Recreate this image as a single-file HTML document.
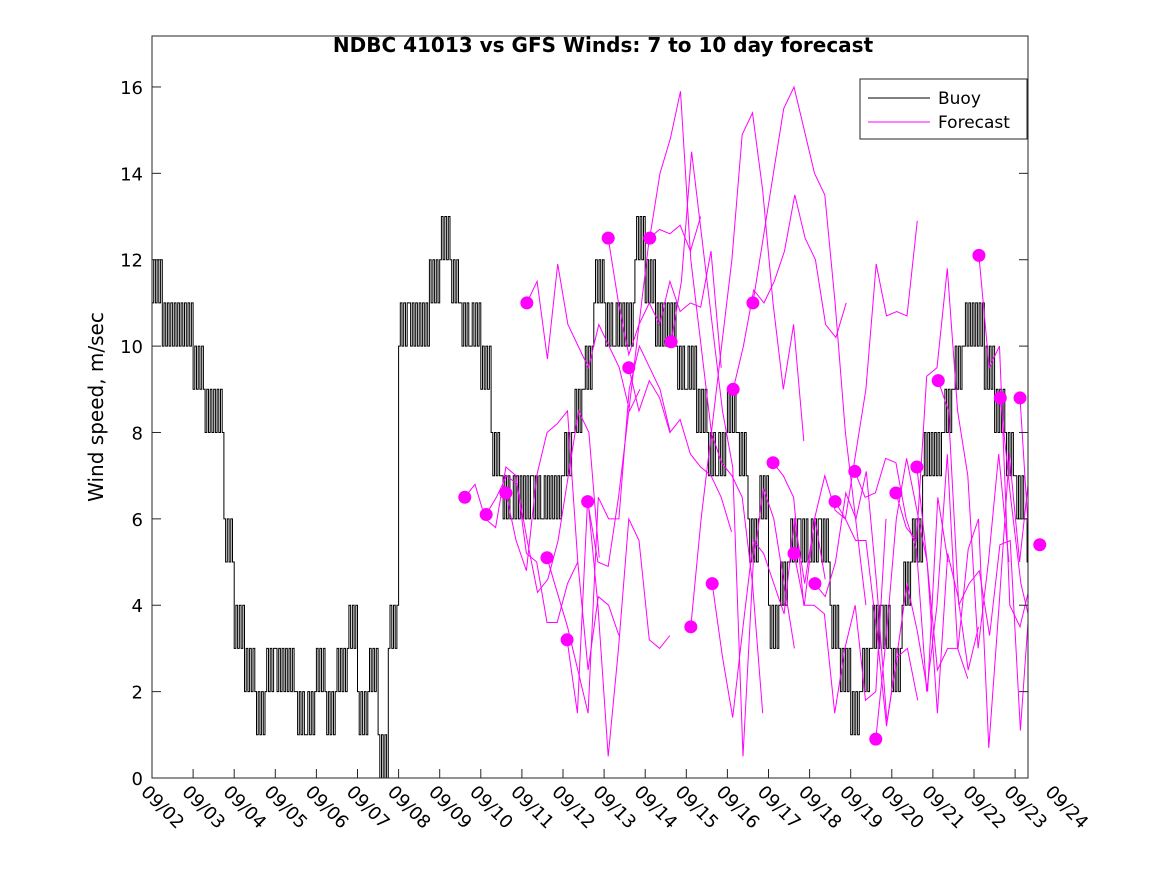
<!DOCTYPE html>
<html><head><meta charset="utf-8"><style>
body{margin:0;background:#fff;}
svg{font-family:"Liberation Sans","DejaVu Sans",sans-serif;}
</style></head><body>
<svg id="chart" width="1167" height="875" viewBox="0 0 1167 875" xmlns="http://www.w3.org/2000/svg">
<defs><clipPath id="pc"><rect x="152" y="36" width="876" height="742"/></clipPath></defs>
<rect width="1167" height="875" fill="#fff"/>
<text x="603" y="52" text-anchor="middle" font-size="20" font-weight="bold" font-family="DejaVu Sans, sans-serif">NDBC 41013 vs GFS Winds: 7 to 10 day forecast</text>
<text transform="translate(103,407) rotate(-90)" text-anchor="middle" font-size="20" font-family="DejaVu Sans, sans-serif">Wind speed, m/sec</text>
<g id="series" clip-path="url(#pc)"></g>
<g id="dots"></g>
<rect x="152" y="36" width="876" height="742" fill="none" stroke="#262626" stroke-width="1"/>
<g id="axes"></g>
<g>
<rect x="860" y="79" width="167" height="60" fill="#fff" stroke="#262626"/>
<line x1="868" y1="98" x2="930" y2="98" stroke="#000"/>
<text x="938" y="104" font-size="17" font-family="DejaVu Sans, sans-serif">Buoy</text>
<line x1="868" y1="122" x2="930" y2="122" stroke="#f0f"/>
<text x="938" y="128" font-size="17" font-family="DejaVu Sans, sans-serif">Forecast</text>
</g>
</svg>
<script>
const xLabels=["09/02","09/03","09/04","09/05","09/06","09/07","09/08","09/09","09/10","09/11","09/12","09/13","09/14","09/15","09/16","09/17","09/18","09/19","09/20","09/21","09/22","09/23","09/24"];
const yTicks=[0,2,4,6,8,10,12,14,16];
const buoyStep=0.25;
const buoy=[11,10,10,10,9,9,9,6,3,2,2,2,3,3,2,1,3,1,3,3,2,2,1,3,10,11,11,12,12,12,11,10,9,8,7,6,6,7,6,6,7,8,9,11,11,10,10,12,11,10,10,10,9,8,8,7,9,8,6,6,4,4,5,6,5,6,4,2,1,2,3,4,2,4,6,7,7,8,9,10,10,9,8,8,7,6];
const buoyAlt=[12,11,11,11,10,8,8,5,4,3,1,3,2,2,1,2,2,2,2,4,1,3,0,4,11,10,10,11,13,11,10,11,10,7,6,7,7,6,7,7,8,9,10,12,10,11,11,13,12,11,11,9,10,9,7,8,8,7,5,7,3,5,6,5,6,5,3,3,2,3,4,3,3,5,5,8,8,9,10,11,11,10,9,7,6,5];
const fcStart=[7.61,8.13,8.61,9.12,9.61,10.1,10.6,11.1,11.6,12.11,12.63,13.11,13.63,14.14,14.62,15.11,15.62,16.13,16.62,17.1,17.61,18.1,18.61,19.13,20.12,20.64,21.12,21.6];
const fc=[
[6.5,6.8,6,5.8,7.2,7,5.2,5,3.6,3.6,4.5,5],
[6.1,6.5,7,6.8,5.5,4.3,4.6,5.5,7,8.5,8,5.1],
[6.6,5.5,4.8,7,8,8.2,8.5,5,2.5,4.2,4,3.3],
[11,11.5,9.7,11.9,10.5,10,9.5,10.5,10,9.5,8.5,9],
[5.1,4.3,3.5,2.5,1.5,6.5,6,6,9,10,9.5,9,8],
[3.2,1.5,6.5,4,0.5,3,6,5.5,3.2,3,3.3],
[6.4,5,4.9,6.5,8.5,10.5,12.5,12.7,12.6,12.8,12.2,13],
[12.5,11,9.8,10.5,11,10.5,11.5,10.8,11,10.9,12.2,9.5],
[9.5,8.5,9.2,8.8,8,8.3,7.5,7.2,7,6.5,5.7],
[12.5,14,14.8,15.9,12,10,8,7.3,7,6.5,4.5,1.5],
[10.1,11.5,14.5,12.5,10.5,8.5,7.2,0.5,5,6.7,6,4.5,3],
[3.5,6,8,10,12,14.9,15.4,13.6,11,9,10.5,7.8],
[4.5,2.8,1.4,3.5,5.5,5.2,4.5,3.8,6,4.5,6,4.6],
[9,10,11.3,11,11.5,12.2,13.5,12.5,12,10.5,10.2,11],
[11,12.5,14,15.5,16,15,14,13.5,11,8,6,4],
[7.3,7,6.5,4,4,3.8,1.5,3,4,1.8,2,6],
[5.2,4,6,7,6.2,6,7.5,9,11.9,10.7,10.8,10.7,12.9],
[4.5,4.2,5,6.6,6,7.1,4.5,1.3,2.8,3,1.8],
[6.4,6,5.5,5.5,3.5,1.2,2.8,4.5,3.4,2,6.5,5],
[7.1,6.5,6.6,7.4,7.3,6,5.3,2,4,7.5,3,2.3],
[0.9,3.2,6,7.4,6.2,5,1.5,5.2,4.2,2.5,3.5],
[6.6,5.8,5.5,9.3,9.5,11.8,8.5,7,3,5,7.5,5],
[7.2,5,2.5,3,3,5.3,6,0.7,4,7.5,5,7.2],
[9.2,8.5,4,4.5,4.8,3.3,5.4,5.5,1.1,4.5,1],
[12.1,9.5,10,4,3.5,4.5,4.5,7,3,1.5,4,4.5],
[8.8,6.5,4.5,3.5,2.7,4.6,3,7.2,6.5,4.5],
[8.8,5,4.5,6.7,4.8,7.3,6.8,5.3,2.8,1.6],
[5.4,4.5]
];
const NS="http://www.w3.org/2000/svg";
const X=d=>152+d*41.1;
const Y=v=>778-v*43.19;
function mk(tag,attrs,parent){const e=document.createElementNS(NS,tag);for(const k in attrs)e.setAttribute(k,attrs[k]);parent.appendChild(e);return e;}
const axes=document.getElementById('axes');
yTicks.forEach(v=>{
  const t=mk('line',{x1:152,x2:161,y1:Y(v),y2:Y(v),stroke:'#262626'},axes);
  
  
  const t2=mk('line',{x1:1019,x2:1028,y1:Y(v),y2:Y(v),stroke:'#262626'},axes);
  
  
  const l=mk('text',{x:143,y:Y(v)+7,'text-anchor':'end','font-size':18,'font-family':'DejaVu Sans, sans-serif'},axes);
  l.textContent=v;
  
  
});
xLabels.forEach((s,i)=>{
  const x=X(i);
  if(x<=1028){
    const t=mk('line',{x1:x,x2:x,y1:778,y2:769,stroke:'#262626'},axes);
    
    
  }
  const l=mk('text',{transform:`translate(${x-12},${793}) rotate(45)`,'font-size':18,'font-family':'DejaVu Sans, sans-serif'},axes);
  l.textContent=s;
  
  
});
const series=document.getElementById('series');
let d='';
buoy.forEach((v,i)=>{
  const a=buoyAlt[i];
  for(let h=0;h<6;h++){
    const val=(h%2===1)?a:v;
    const t0=(i*6+h)/6*buoyStep,t1=(i*6+h+1)/6*buoyStep;
    d+=(d?'L':'M')+X(t0).toFixed(1)+','+Y(val).toFixed(1)+'L'+X(t1).toFixed(1)+','+Y(val).toFixed(1);
  }
});
const bp=mk('path',{d:d,fill:'none',stroke:'#000','stroke-width':1},series);


const dots=document.getElementById('dots');
fc.forEach((vals,k)=>{
  const s=fcStart[k];
  const pd=vals.map((v,j)=>(j?'L':'M')+X(s+j*0.25).toFixed(1)+','+Y(v).toFixed(1)).join('');
  const p=mk('path',{d:pd,fill:'none',stroke:'#f0f','stroke-width':1},series);
  
  
  const c=mk('circle',{cx:X(s),cy:Y(vals[0]),r:6.5,fill:'#f0f'},dots);
  
  
});
</script>
</body></html>
